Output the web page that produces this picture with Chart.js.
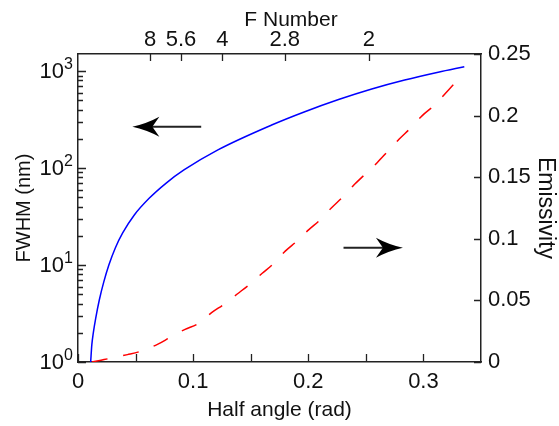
<!DOCTYPE html>
<html>
<head>
<meta charset="utf-8">
<script src="https://cdn.jsdelivr.net/npm/chart.js@4.4.1/dist/chart.umd.min.js"></script>
<style>
  html, body { margin: 0; padding: 0; background: #fff; }
  #wrap { width: 559px; height: 426px; position: relative; }
</style>
</head>
<body>
<div id="wrap"><canvas id="c" width="559" height="426"></canvas></div>
<script>
// FWHM (nm) against half angle (rad), left log axis
const fwhmAngle = [0.0110, 0.0120, 0.0133, 0.0154, 0.0185, 0.0224, 0.0268, 0.0324, 0.0388, 0.0489,
                   0.0620, 0.0766, 0.0920, 0.1215, 0.1682, 0.1964, 0.2263, 0.2551, 0.2837, 0.3128, 0.3355];
const fwhmValue = [1.0, 1.5, 2.0, 2.84, 4.36, 6.7, 10.0, 15.0, 21.4, 32.8,
                   49, 70, 95.5, 154, 278, 379, 509, 654, 809, 974, 1110];

// Emissivity against half angle (rad), right linear axis
const emisAngle = [0.012, 0.020, 0.028, 0.043, 0.054, 0.069, 0.080, 0.093, 0.104, 0.116,
                   0.127, 0.138, 0.149, 0.160, 0.170, 0.180, 0.190, 0.200, 0.211, 0.220,
                   0.230, 0.240, 0.250, 0.260, 0.269, 0.279, 0.289, 0.299, 0.309, 0.319, 0.328, 0.335];
const emisValue = [0, 0.0015, 0.003, 0.006, 0.0086, 0.0143, 0.020, 0.0265, 0.031, 0.040,
                   0.047, 0.055, 0.063, 0.072, 0.080, 0.090, 0.098, 0.107, 0.116, 0.125,
                   0.134, 0.144, 0.153, 0.162, 0.171, 0.181, 0.190, 0.200, 0.208, 0.218, 0.227, 0.233];

// Axis ticks
const halfAngleTicks = [0, 0.1, 0.2, 0.3];
const halfAngleMinor = [0.05, 0.15, 0.25];
const fNumbers = [8, 5.6, 4, 2.8, 2];
const fNumberLabels = ['8', '5.6', '4', '2.8', '2'];
const fwhmDecades = [1, 10, 100, 1000];
const fwhmExponents = ['0', '1', '2', '3'];
const emisTicks = [0, 0.05, 0.1, 0.15, 0.2, 0.25];

// Pointer arrows telling which curve belongs to which axis
const arrowNotes = [
  { yAxis: 'y',  from: [0.107, 267],  to: [0.0472, 267] },
  { yAxis: 'y2', from: [0.2306, 0.0928], to: [0.2822, 0.0928] }
];

const FONT = "'Liberation Sans', Arial, Helvetica, sans-serif";
const INK = '#111';
const AXIS = '#222';
Chart.defaults.font.family = FONT;
Chart.defaults.color = INK;

// half angle subtended by an f-number cone
const fToAngle = f => Math.asin(1 / (2 * f));

function drawArrow(ctx, x0, y0, x1, y1) {
  const ang = Math.atan2(y1 - y0, x1 - x0);
  const len = Math.hypot(x1 - x0, y1 - y0);
  ctx.save();
  ctx.translate(x1, y1);
  ctx.rotate(ang);
  ctx.strokeStyle = '#222';
  ctx.lineWidth = 2;
  ctx.beginPath();
  ctx.moveTo(-len, 0);
  ctx.lineTo(-18, 0);
  ctx.stroke();
  ctx.fillStyle = '#000';
  ctx.beginPath();
  ctx.moveTo(0, 0);
  ctx.quadraticCurveTo(-14, -3, -27, -10);
  ctx.lineTo(-20, 0);
  ctx.lineTo(-27, 10);
  ctx.quadraticCurveTo(-14, 3, 0, 0);
  ctx.closePath();
  ctx.fill();
  ctx.restore();
}

const axisDecor = {
  id: 'axisDecor',
  afterDraw(chart) {
    const { ctx, chartArea: a, scales } = chart;
    const xs = scales.x, xt = scales.x2, yl = scales.y, yr = scales.y2;
    ctx.save();
    ctx.strokeStyle = AXIS;
    ctx.lineWidth = 1.3;
    ctx.beginPath();
    // bottom ticks, pointing inward
    halfAngleTicks.concat(halfAngleMinor).forEach(v => {
      const x = Math.round(xs.getPixelForValue(v)) + 0.5;
      ctx.moveTo(x, a.bottom); ctx.lineTo(x, a.bottom - 8);
    });
    // top ticks at f-numbers
    fNumbers.forEach(f => {
      const x = Math.round(xt.getPixelForValue(fToAngle(f))) + 0.5;
      ctx.moveTo(x, a.top); ctx.lineTo(x, a.top + 7);
    });
    // right ticks
    emisTicks.forEach(v => {
      const y = Math.round(yr.getPixelForValue(v)) + 0.5;
      ctx.moveTo(a.right, y); ctx.lineTo(a.right - 7, y);
    });
    // left log ticks, major and minor
    fwhmDecades.forEach(d => {
      const y = Math.round(yl.getPixelForValue(d)) + 0.5;
      ctx.moveTo(a.left, y); ctx.lineTo(a.left + 8, y);
      for (let m = 2; m <= 9; m++) {
        const v = d * m;
        if (v > yl.max) break;
        const ym = Math.round(yl.getPixelForValue(v)) + 0.5;
        ctx.moveTo(a.left, ym); ctx.lineTo(a.left + 5, ym);
      }
    });
    ctx.stroke();

    // left tick labels as powers of ten
    ctx.fillStyle = INK;
    fwhmDecades.forEach((d, i) => {
      const y = yl.getPixelForValue(d);
      ctx.font = '22px ' + FONT;
      ctx.textAlign = 'right';
      ctx.textBaseline = 'middle';
      ctx.fillText('10', 64, y + 1);
      ctx.font = '16px ' + FONT;
      ctx.textAlign = 'left';
      ctx.textBaseline = 'alphabetic';
      ctx.fillText(fwhmExponents[i], 64, y - 2);
    });

    // top axis title
    ctx.font = '21px ' + FONT;
    ctx.textAlign = 'center';
    ctx.textBaseline = 'middle';
    ctx.fillText('F Number', 291, 20);

    // pointer arrows
    arrowNotes.forEach(n => {
      const ys = scales[n.yAxis];
      drawArrow(ctx,
        xs.getPixelForValue(n.from[0]), ys.getPixelForValue(n.from[1]),
        xs.getPixelForValue(n.to[0]), ys.getPixelForValue(n.to[1]));
    });
    ctx.restore();
  }
};

const noGrid = { display: false, drawTicks: false };
const frame = { display: true, color: AXIS, width: 1.5 };

new Chart(document.getElementById('c'), {
  type: 'line',
  data: {
    datasets: [
      {
        label: 'FWHM',
        data: fwhmAngle.map((a, i) => ({ x: a, y: fwhmValue[i] })),
        xAxisID: 'x', yAxisID: 'y',
        borderColor: '#0000ff', borderWidth: 1.5,
        pointRadius: 0, fill: false, cubicInterpolationMode: 'monotone'
      },
      {
        label: 'Emissivity',
        data: emisAngle.map((a, i) => ({ x: a, y: emisValue[i] })),
        xAxisID: 'x', yAxisID: 'y2',
        borderColor: '#ff0000', borderWidth: 1.5, borderDash: [16, 16],
        pointRadius: 0, fill: false, cubicInterpolationMode: 'monotone'
      }
    ]
  },
  options: {
    responsive: false,
    animation: false,
    devicePixelRatio: 1,
    layout: { padding: 0 },
    plugins: { legend: { display: false }, tooltip: { enabled: false } },
    scales: {
      x: {
        type: 'linear', position: 'bottom', min: 0, max: 0.35,
        afterBuildTicks: s => { s.ticks = halfAngleTicks.map(v => ({ value: v })); },
        afterFit: s => { s.height = 64; },
        grid: noGrid, border: frame,
        ticks: { font: { size: 22 }, color: INK, padding: 7, maxRotation: 0, autoSkip: false,
                 callback: v => String(v) },
        title: { display: true, text: 'Half angle (rad)', font: { size: 21 }, color: INK,
                 padding: { top: 0, bottom: 3 } }
      },
      x2: {
        type: 'linear', position: 'top', min: 0, max: 0.35,
        afterBuildTicks: s => { s.ticks = fNumbers.map(f => ({ value: fToAngle(f) })); },
        afterFit: s => { s.height = 54; },
        grid: noGrid, border: frame,
        ticks: { font: { size: 22 }, color: INK, padding: 1, maxRotation: 0, autoSkip: false,
                 callback: (v, i) => fNumberLabels[i] }
      },
      y: {
        type: 'logarithmic', position: 'left', min: 1, max: 1500,
        afterFit: s => { s.width = 78; },
        grid: noGrid, border: frame,
        ticks: { display: false },
        title: { display: true, text: 'FWHM (nm)', font: { size: 20 }, color: INK,
                 padding: { top: 12, bottom: 0 } }
      },
      y2: {
        type: 'linear', position: 'right', min: 0, max: 0.25,
        afterBuildTicks: s => { s.ticks = emisTicks.map(v => ({ value: v })); },
        afterFit: s => { s.width = 78; },
        grid: noGrid, border: frame,
        ticks: { font: { size: 22 }, color: INK, padding: 7, autoSkip: false,
                 callback: v => String(Number(v.toFixed(2))) },
        title: { display: true, text: 'Emissivity', font: { size: 23 }, color: INK,
                 padding: { top: 0, bottom: 0 } }
      }
    }
  },
  plugins: [axisDecor]
});
</script>
</body>
</html>
